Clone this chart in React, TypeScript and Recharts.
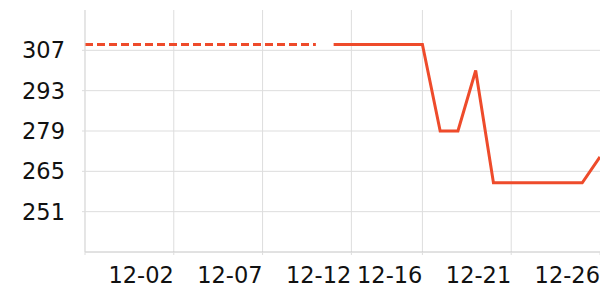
import { LineChart, Line, XAxis, YAxis, CartesianGrid } from "recharts"

const RED = "#EE4B2B"
const GRID = "#DDDDDD"
const FONT = "'DejaVu Sans', sans-serif"

// one entry per day, 11-27 .. 12-26
const dates = [
  "11-27", "11-28", "11-29", "11-30", "12-01", "12-02", "12-03", "12-04", "12-05", "12-06",
  "12-07", "12-08", "12-09", "12-10", "12-11", "12-12", "12-13", "12-14", "12-15", "12-16",
  "12-17", "12-18", "12-19", "12-20", "12-21", "12-22", "12-23", "12-24", "12-25", "12-26",
]

// dashed part (earlier estimate), null where it is not drawn
const estimated = [
  309, 309, 309, 309, 309, 309, 309, 309, 309, 309,
  309, 309, 309, 309, null, null, null, null, null, null,
  null, null, null, null, null, null, null, null, null, null,
]

// solid part
const actual = [
  null, null, null, null, null, null, null, null, null, null,
  null, null, null, null, 309, 309, 309, 309, 309, 309,
  279, 279, 300, 261, 261, 261, 261, 261, 261, 270,
]

const xTicks = ["11-27", "12-02", "12-07", "12-12", "12-16", "12-21", "12-26"]
const yTicks = [251, 265, 279, 293, 307]
const Y_DOMAIN = [237, 321]
const X_DOMAIN = [0, dates.length - 1]

const data = dates.map((d, i) => ({ i, date: d, estimated: estimated[i], actual: actual[i] }))
const xTickIdx = xTicks.map((t) => dates.indexOf(t))

// map a value through the axis scale, whatever shape recharts hands over
function toPx(axis: any, v: number, fallback: () => number) {
  const s = axis?.scale
  if (typeof s === "function") return s(v)
  if (s && typeof s.map === "function") return s.map(v)
  return fallback()
}

function XTick({ x, y, payload }: any) {
  const label = payload.value === 0 ? "" : dates[payload.value]
  return (
    <text x={x} y={y} dy="0.71em" textAnchor="end" fontSize={22.5} fontFamily={FONT} fill="#111">
      {label}
    </text>
  )
}

export default function App() {
  return (
    <div style={{ width: 600, height: 300 }}>
      <style>{`body{margin:0}`}</style>
      <LineChart width={600} height={300} data={data} margin={{ top: 10, right: 0, left: 0, bottom: 0 }}>
        <CartesianGrid
          stroke={GRID}
          horizontalCoordinatesGenerator={({ yAxis, offset }: any) =>
            yTicks.map((t) =>
              toPx(yAxis, t, () => offset.top + (offset.height * (Y_DOMAIN[1] - t)) / (Y_DOMAIN[1] - Y_DOMAIN[0]))
            )
          }
          verticalCoordinatesGenerator={({ xAxis, offset }: any) =>
            xTickIdx
              .filter((t) => t < dates.length - 1)
              .map((t) =>
                toPx(xAxis, t, () => offset.left + (offset.width * (t - X_DOMAIN[0])) / (X_DOMAIN[1] - X_DOMAIN[0]))
              )
          }
        />
        <XAxis
          dataKey="i"
          type="number"
          domain={X_DOMAIN}
          ticks={xTickIdx}
          height={48}
          tick={<XTick />}
          tickSize={3}
          tickMargin={12}
          tickLine={{ stroke: GRID }}
          axisLine={{ stroke: "#C4C4C4" }}
          interval={0}
        />
        <YAxis
          type="number"
          domain={Y_DOMAIN}
          ticks={yTicks}
          width={85}
          tickSize={3}
          tickMargin={17}
          tickLine={{ stroke: GRID }}
          axisLine={{ stroke: GRID }}
          tick={{ fontSize: 22.5, fontFamily: FONT, fill: "#111" }}
          interval={0}
        />
        <Line
          dataKey="estimated"
          stroke={RED}
          strokeWidth={3}
          strokeDasharray="8 4"
          dot={false}
          isAnimationActive={false}
        />
        <Line
          dataKey="actual"
          stroke={RED}
          strokeWidth={3}
          dot={false}
          isAnimationActive={false}
        />
      </LineChart>
    </div>
  )
}
